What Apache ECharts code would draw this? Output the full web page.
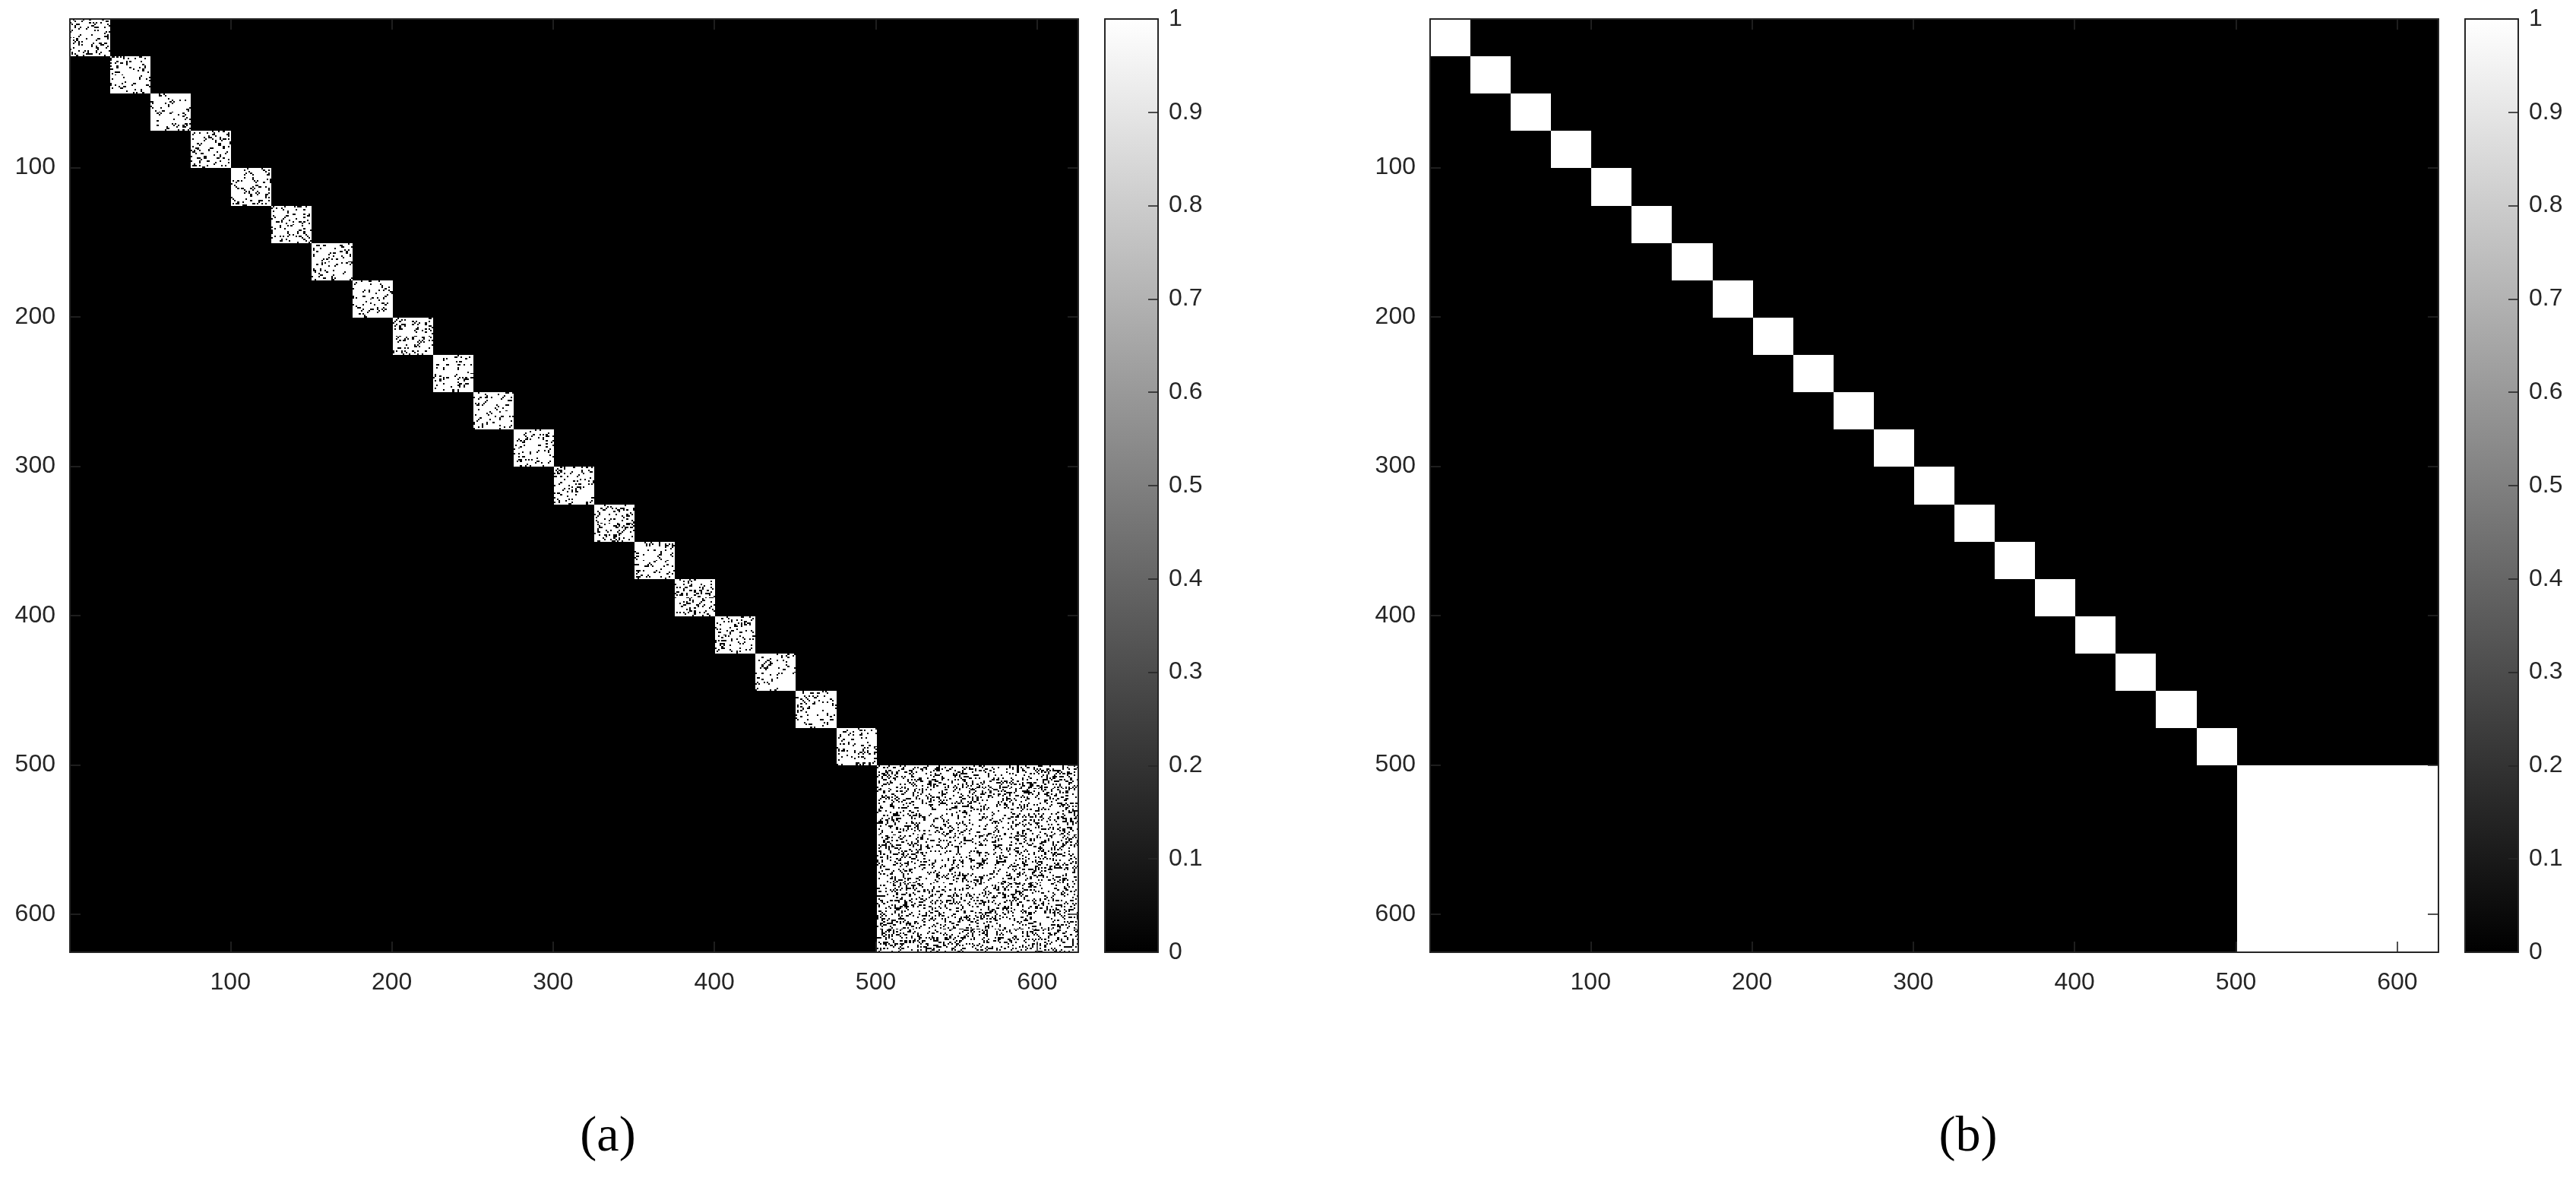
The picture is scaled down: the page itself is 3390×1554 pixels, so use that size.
<!DOCTYPE html>
<html>
<head>
<meta charset="utf-8">
<script src="https://cdn.jsdelivr.net/npm/echarts@6/dist/echarts.min.js"></script>
<style>
html,body{margin:0;padding:0;background:#ffffff;}
#chart{width:3390px;height:1554px;}
</style>
</head>
<body>
<div id="chart"></div>
<script>
// ---------------- data ----------------
const matrixSize = 625;
// sizes of the diagonal blocks (20 small clusters + one large cluster)
const blockSizes = [25,25,25,25,25,25,25,25,25,25,25,25,25,25,25,25,25,25,25,25,125];
// value inside a block (panel b is exactly 1 in every block)
const blockValueB = [1,1,1,1,1,1,1,1,1,1,1,1,1,1,1,1,1,1,1,1,1];
// panel a: entries are 0/1; estimated fraction of ones inside each block
const blockOnesFractionA = [0.86,0.82,0.88,0.85,0.85,0.84,0.86,0.87,0.84,0.85,0.87,0.85,0.86,0.84,0.87,0.84,0.85,0.86,0.87,0.85,0.79];
const axisTickValues = [100,200,300,400,500,600];
const colorbarTickValues = [0,0.1,0.2,0.3,0.4,0.5,0.6,0.7,0.8,0.9,1];
const colorbarRange = [0, 1];
const panelCaptions = ['(a)', '(b)'];

// ---------------- build series data ----------------
function buildBlocks(values, fractions) {
  const rows = [[0.5, matrixSize + 0.5, 0, 1, -1]]; // background: zeros
  let start = 1;
  blockSizes.forEach((s, k) => {
    rows.push([start - 0.5, start + s - 0.5, values[k], fractions ? fractions[k] : 1, k]);
    start += s;
  });
  return rows;
}
const dataA = buildBlocks(blockValueB.map(() => 1), blockOnesFractionA);
const dataB = buildBlocks(blockValueB, null);

// ---------------- styling helpers ----------------
const INK = '#262626';
const FONT = 'Liberation Sans';
const FS = 32;

// texture for the sparse 0/1 blocks of panel (a) (visual style only)
const texCache = {};
function speckle(a, b, s) {
  let h = (Math.imul(a + 1, 374761393) + Math.imul(b + 7, 668265263) + Math.imul(s + 13, 2246822519)) | 0;
  h = Math.imul(h ^ (h >>> 13), 1274126177);
  h ^= h >>> 16;
  h = Math.imul(h, 2654435761);
  h ^= h >>> 15;
  return (h >>> 0) / 4294967296;
}
function blockTexture(n, frac, seed, W, H) {
  const key = seed + '_' + W + '_' + H;
  if (texCache[key]) return texCache[key];
  const cv = document.createElement('canvas');
  cv.width = W; cv.height = H;
  const ctx = cv.getContext('2d');
  ctx.fillStyle = '#000000';
  const cw = W / n, ch = H / n;
  for (let i = 0; i < n; i++) {
    for (let j = 0; j < n; j++) {
      if (i === j) continue;
      const a = Math.min(i, j), b = Math.max(i, j);
      if (speckle(a, b, seed) >= frac) {
        const x = Math.round(j * cw), y = Math.round(i * ch);
        ctx.fillRect(x, y, Math.round((j + 1) * cw) - x, Math.round((i + 1) * ch) - y);
      }
    }
  }
  texCache[key] = cv;
  return cv;
}

function matrixRender(params, api) {
  const x0 = api.value(0), x1 = api.value(1);
  const frac = api.value(3), seed = api.value(4);
  const p0 = api.coord([x0, x0]);
  const p1 = api.coord([x1, x1]);
  const x = Math.round(p0[0]), y = Math.round(p0[1]);
  const w = Math.round(p1[0]) - x, h = Math.round(p1[1]) - y;
  const color = api.visual('color');
  const children = [{
    type: 'rect',
    shape: { x: x, y: y, width: w, height: h },
    style: { fill: color, stroke: null }
  }];
  if (frac < 1 && seed >= 0) {
    const n = Math.round(x1 - x0);
    children.push({
      type: 'image',
      style: { image: blockTexture(n, frac, seed, w, h), x: x, y: y, width: w, height: h }
    });
  }
  return { type: 'group', children: children };
}

function colorbarRender(params, api) {
  const p0 = api.coord([0, colorbarRange[1]]);
  const p1 = api.coord([1, colorbarRange[0]]);
  return {
    type: 'rect',
    shape: { x: p0[0], y: p0[1], width: p1[0] - p0[0], height: p1[1] - p0[1] },
    style: {
      fill: new echarts.graphic.LinearGradient(0, 1, 0, 0, [
        { offset: 0, color: '#000000' }, { offset: 1, color: '#ffffff' }
      ])
    }
  };
}

// ---------------- layout ----------------
const TOP = 25, H = 1228;
const grids = [
  { left: 92, top: TOP, width: 1327, height: H },   // matrix a
  { left: 1454, top: TOP, width: 70, height: H },   // colorbar a
  { left: 1882, top: TOP, width: 1327, height: H }, // matrix b
  { left: 3244, top: TOP, width: 70, height: H }    // colorbar b
];

const lineStyle = { show: true, onZero: false, lineStyle: { color: INK, width: 2 } };
const tickStyle = (vals) => ({ show: true, inside: true, length: 14, customValues: vals, lineStyle: { color: INK, width: 1.6 } });
const labelStyle = (vals, margin) => ({ show: true, customValues: vals, margin: margin, color: INK, fontFamily: FONT, fontSize: FS });
const noLabel = { show: false };
const noSplit = { show: false };

const xAxes = [], yAxes = [];
[0, 2].forEach(g => {
  xAxes.push({ type: 'value', gridIndex: g, position: 'bottom', min: 0.5, max: matrixSize + 0.5, z: 10,
    axisLine: lineStyle, axisTick: tickStyle(axisTickValues), axisLabel: labelStyle(axisTickValues, 24), splitLine: noSplit });
  xAxes.push({ type: 'value', gridIndex: g, position: 'top', min: 0.5, max: matrixSize + 0.5, z: 10,
    axisLine: lineStyle, axisTick: tickStyle(axisTickValues), axisLabel: noLabel, splitLine: noSplit });
  yAxes.push({ type: 'value', gridIndex: g, position: 'left', inverse: true, min: 0.5, max: matrixSize + 0.5, z: 10,
    axisLine: lineStyle, axisTick: tickStyle(axisTickValues), axisLabel: labelStyle(axisTickValues, 19), splitLine: noSplit });
  yAxes.push({ type: 'value', gridIndex: g, position: 'right', inverse: true, min: 0.5, max: matrixSize + 0.5, z: 10,
    axisLine: lineStyle, axisTick: tickStyle(axisTickValues), axisLabel: noLabel, splitLine: noSplit });
});
[1, 3].forEach(g => {
  xAxes.push({ type: 'value', gridIndex: g, position: 'bottom', min: 0, max: 1, z: 10,
    axisLine: lineStyle, axisTick: { show: false }, axisLabel: noLabel, splitLine: noSplit });
  xAxes.push({ type: 'value', gridIndex: g, position: 'top', min: 0, max: 1, z: 10,
    axisLine: lineStyle, axisTick: { show: false }, axisLabel: noLabel, splitLine: noSplit });
  yAxes.push({ type: 'value', gridIndex: g, position: 'right', min: colorbarRange[0], max: colorbarRange[1], z: 10,
    axisLine: lineStyle, axisTick: Object.assign(tickStyle(colorbarTickValues), { length: 13 }),
    axisLabel: Object.assign(labelStyle(colorbarTickValues, 14), { formatter: v => String(+v.toFixed(1)) }), splitLine: noSplit });
  yAxes.push({ type: 'value', gridIndex: g, position: 'left', min: colorbarRange[0], max: colorbarRange[1], z: 10,
    axisLine: lineStyle, axisTick: { show: false }, axisLabel: noLabel, splitLine: noSplit });
});

const chart = echarts.init(document.getElementById('chart'), null, { renderer: 'canvas' });
chart.setOption({
  animation: false,
  backgroundColor: '#ffffff',
  grid: grids.map(g => Object.assign({ containLabel: false, show: false }, g)),
  xAxis: xAxes,
  yAxis: yAxes,
  visualMap: {
    show: false, type: 'continuous', min: 0, max: 1, dimension: 2, seriesIndex: [0, 1],
    inRange: { color: ['#000000', '#ffffff'] }
  },
  series: [
    { type: 'custom', name: 'a', xAxisIndex: 0, yAxisIndex: 0, renderItem: matrixRender, data: dataA, silent: true, clip: false },
    { type: 'custom', name: 'b', xAxisIndex: 2, yAxisIndex: 2, renderItem: matrixRender, data: dataB, silent: true, clip: false },
    { type: 'custom', name: 'cbA', xAxisIndex: 4, yAxisIndex: 4, renderItem: colorbarRender, data: [[0, 0]], silent: true },
    { type: 'custom', name: 'cbB', xAxisIndex: 6, yAxisIndex: 6, renderItem: colorbarRender, data: [[0, 0]], silent: true }
  ],
  graphic: [
    { type: 'text', x: 800, y: 1497, style: { text: panelCaptions[0], textAlign: 'center', textVerticalAlign: 'middle', font: '66px "Liberation Serif"', fill: '#000000' } },
    { type: 'text', x: 2590, y: 1497, style: { text: panelCaptions[1], textAlign: 'center', textVerticalAlign: 'middle', font: '66px "Liberation Serif"', fill: '#000000' } }
  ]
});
</script>
</body>
</html>
